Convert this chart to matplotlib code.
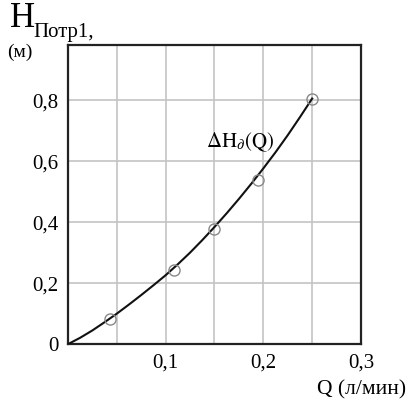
import matplotlib
matplotlib.use("Agg")
import matplotlib.pyplot as plt
from matplotlib.ticker import MultipleLocator, FixedLocator

plt.rcParams["font.family"] = ["Liberation Serif", "DejaVu Serif"]
plt.rcParams["mathtext.fontset"] = "stix"

# measured points
q_pts = [0.043, 0.1085, 0.1495, 0.1945, 0.25]
h_pts = [0.082, 0.243, 0.377, 0.538, 0.805]

# fitted curve
q_curve = [0, 0.0125, 0.025, 0.0375, 0.05, 0.0625, 0.075, 0.0875, 0.1, 0.1125,
           0.125, 0.1375, 0.15, 0.1625, 0.175, 0.1875, 0.2, 0.2125, 0.225, 0.2375, 0.25]
h_curve = [0, 0.021, 0.045, 0.072, 0.10, 0.13, 0.161, 0.193, 0.226, 0.262,
           0.30, 0.341, 0.384, 0.429, 0.476, 0.525, 0.576, 0.629, 0.685, 0.744, 0.805]

x_ticks = [0.1, 0.2, 0.3]
x_labels = ["0,1", "0,2", "0,3"]
y_ticks = [0, 0.2, 0.4, 0.6, 0.8]
y_labels = ["0", "0,2", "0,4", "0,6", "0,8"]

fig = plt.figure(figsize=(4.07, 4.03), dpi=100)
ax = fig.add_axes([0.167, 0.146, 0.72, 0.742])

ax.plot(q_curve, h_curve, color="#111111", lw=1.5, zorder=3)
ax.plot(q_pts, h_pts, "o", ms=8, mfc="none", mec="#888888", mew=1.0, zorder=4)

ax.set_xlim(0, 0.3)
ax.set_ylim(0, 0.98)
ax.xaxis.set_major_locator(FixedLocator(x_ticks))
ax.set_xticklabels(x_labels)
ax.xaxis.set_minor_locator(MultipleLocator(0.05))
ax.yaxis.set_major_locator(FixedLocator(y_ticks))
ax.set_yticklabels(y_labels)
ax.grid(True, which="both", color="#c4c4c4", lw=1.2)
ax.set_axisbelow(True)
ax.tick_params(which="both", length=0, labelsize=15, pad=7)
for s in ax.spines.values():
    s.set_linewidth(1.6)
    s.set_color("#222222")

ax.text(0.176, 0.66, r"$\Delta\mathrm{H}_{\partial}\mathrm{(Q)}$", fontsize=15, ha="center", va="center")

fig.text(0.025, 0.932, "H", fontsize=25, ha="left", va="baseline")
fig.text(0.083, 0.908, "Потр1,", fontsize=15, ha="left", va="baseline")
fig.text(0.017, 0.87, "(м)", fontsize=14, ha="left", va="center")
fig.text(0.998, 0.032, "Q (л/мин)", fontsize=15.5, ha="right", va="center")

fig.savefig("out.png", dpi=100)
